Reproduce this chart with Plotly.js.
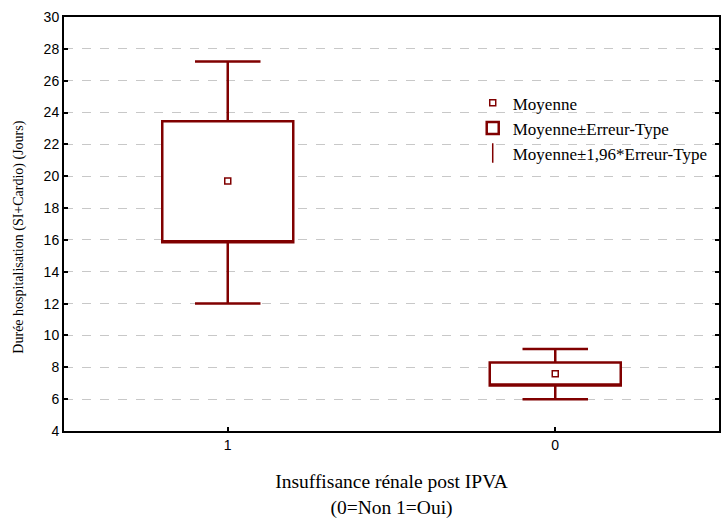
<!DOCTYPE html>
<html>
<head>
<meta charset="utf-8">
<script src="https://cdn.plot.ly/plotly-3.0.1.min.js"></script>
<style>html,body{margin:0;padding:0;background:#fff;}#chart{width:721px;height:522px;}</style>
</head>
<body>
<div id="chart"></div>
<script>
// Data
const categories = ["1", "0"];
const means = [19.7, 7.6];
const seLow = [15.85, 6.85];     // Moyenne - Erreur-Type
const seHigh = [23.45, 8.3];     // Moyenne + Erreur-Type
const ciLow = [12.0, 6.0];       // Moyenne - 1,96*Erreur-Type
const ciHigh = [27.2, 9.15];     // Moyenne + 1,96*Erreur-Type
const yTicks = [4, 6, 8, 10, 12, 14, 16, 18, 20, 22, 24, 26, 28, 30];

const red = "#800000";
const serif = "Liberation Serif, Times New Roman, serif";
const sans = "Liberation Sans, Arial, sans-serif";

const traces = [
  {
    type: "scatter",
    mode: "markers",
    name: "Moyenne",
    legendgroup: "a",
    x: categories,
    y: means,
    marker: {symbol: "square-open", size: 6, color: red, line: {width: 1.5, color: red}},
    hoverinfo: "skip"
  },
  {
    type: "box",
    name: "Moyenne±Erreur-Type",
    legendgroup: "b",
    x: categories,
    q1: seLow,
    median: seLow,
    q3: seHigh,
    lowerfence: ciLow,
    upperfence: ciHigh,
    width: 0.4,
    whiskerwidth: 0.5,
    fillcolor: "#ffffff",
    line: {color: red, width: 2.5},
    hoverinfo: "skip"
  },
  {
    type: "scatter",
    mode: "markers",
    name: "Moyenne±1,96*Erreur-Type",
    legendgroup: "c",
    x: [null],
    y: [null],
    marker: {symbol: "line-ns-open", size: 14, color: red, line: {width: 1.5, color: red}},
    hoverinfo: "skip"
  }
];

const layout = {
  width: 721,
  height: 522,
  margin: {l: 64, r: 2, t: 17, b: 91},
  paper_bgcolor: "#ffffff",
  plot_bgcolor: "#ffffff",
  showlegend: true,
  legend: {
    x: 0.624, y: 0.835, xanchor: "left", yanchor: "top",
    bgcolor: "rgba(0,0,0,0)",
    font: {family: serif, size: 17, color: "#000"},
    traceorder: "grouped",
    tracegroupgap: 0,
    itemwidth: 30
  },
  xaxis: {
    type: "category",
    categoryorder: "array",
    categoryarray: categories,
    range: [-0.5, 1.5],
    showline: true, linecolor: "#000", linewidth: 2, mirror: true,
    ticks: "inside", ticklen: 4, tickwidth: 2, tickcolor: "#000",
    showgrid: false, zeroline: false,
    tickfont: {family: sans, size: 14, color: "#000"},
    title: {
      text: "Insuffisance rénale post IPVA<br>(0=Non 1=Oui)",
      font: {family: serif, size: 19.5, color: "#000"},
      standoff: 23
    }
  },
  yaxis: {
    range: [4, 30],
    tickvals: yTicks,
    ticktext: yTicks.map(String),
    showline: true, linecolor: "#000", linewidth: 2, mirror: "ticks",
    ticks: "inside", ticklen: 4, tickwidth: 2, tickcolor: "#000",
    showgrid: true, gridcolor: "#c8c8c8", gridwidth: 1, griddash: "dash",
    zeroline: false,
    tickfont: {family: sans, size: 14, color: "#000"}
  },
  annotations: [
    {
      text: "Durée hospitalisation (SI+Cardio) (Jours)",
      textangle: -90,
      xref: "paper", yref: "paper",
      x: -0.069, y: 0.469,
      xanchor: "center", yanchor: "middle",
      showarrow: false,
      font: {family: serif, size: 14, color: "#000"}
    }
  ]
};

Plotly.newPlot("chart", traces, layout, {displayModeBar: false, staticPlot: true});
</script>
</body>
</html>
